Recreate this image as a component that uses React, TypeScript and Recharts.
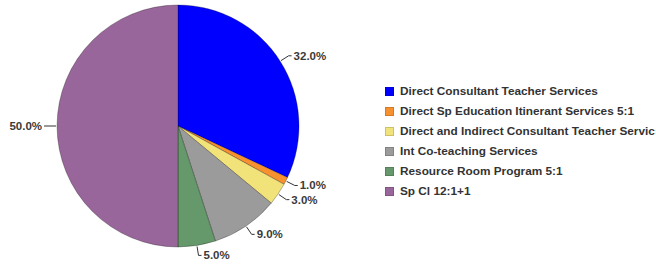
import { PieChart, Pie, Cell } from 'recharts';

const categories = [
  'Direct Consultant Teacher Services',
  'Direct Sp Education Itinerant Services 5:1',
  'Direct and Indirect Consultant Teacher Servic',
  'Int Co-teaching Services',
  'Resource Room Program 5:1',
  'Sp Cl 12:1+1',
];
const shares = [32, 1, 3, 9, 5, 50];
const colors = ['#0000ff', '#f7912f', '#f2e27a', '#9b9b9b', '#65986a', '#98669a'];

const data = categories.map((name, i) => ({ name, value: shares[i] }));

const RAD = Math.PI / 180;

function renderLabel(props: any) {
  const { cx, cy, midAngle, outerRadius, value } = props;
  const cos = Math.cos(-midAngle * RAD);
  const sin = Math.sin(-midAngle * RAD);
  const sx = cx + (outerRadius + 1) * cos;
  const sy = cy + (outerRadius + 1) * sin;
  const mx = cx + (outerRadius + 10) * cos;
  const my = cy + (outerRadius + 10) * sin;
  const right = cos >= 0;
  const ex = mx + (right ? 3 : -3);
  const tx = ex + (right ? 2 : -2);
  return (
    <g>
      <path d={`M${sx},${sy}L${mx},${my}L${ex},${my}`} stroke="#333" strokeWidth={1} fill="none" />
      <text
        x={tx}
        y={my}
        dy={4}
        textAnchor={right ? 'start' : 'end'}
        fill="#3a3a3a"
        fontSize={11.5}
        fontWeight="bold"
      >
        {`${value.toFixed(1)}%`}
      </text>
    </g>
  );
}

function LegendBox() {
  return (
    <div style={{ position: 'absolute', left: 385, top: 81, width: 271, overflow: 'hidden', whiteSpace: 'nowrap' }}>
      {data.map((d, i) => (
        <div key={d.name} style={{ display: 'flex', alignItems: 'center', height: 20 }}>
          <span
            style={{
              display: 'inline-block',
              width: 9,
              height: 9,
              background: colors[i],
              border: '1px solid rgba(0,0,0,0.15)',
              boxSizing: 'border-box',
              marginRight: 6,
              flexShrink: 0,
            }}
          />
          <span style={{ fontSize: 11.8, fontWeight: 'bold', color: '#333' }}>{d.name}</span>
        </div>
      ))}
    </div>
  );
}

export default function App() {
  return (
    <div
      style={{
        position: 'absolute',
        left: 0,
        top: 0,
        width: 656,
        height: 264,
        background: '#fff',
        fontFamily: 'Liberation Sans, Arial, sans-serif',
      }}
    >
      <PieChart width={656} height={264} margin={{ top: 0, right: 0, bottom: 0, left: 0 }}>
        <Pie
          data={data}
          dataKey="value"
          nameKey="name"
          cx={178}
          cy={126}
          outerRadius={121}
          startAngle={90}
          endAngle={-270}
          label={renderLabel}
          labelLine={false}
          isAnimationActive={false}
          stroke="rgba(0,0,0,0.35)"
          strokeWidth={0.8}
        >
          {data.map((d, i) => (
            <Cell key={d.name} fill={colors[i]} />
          ))}
        </Pie>
      </PieChart>
      <LegendBox />
    </div>
  );
}
